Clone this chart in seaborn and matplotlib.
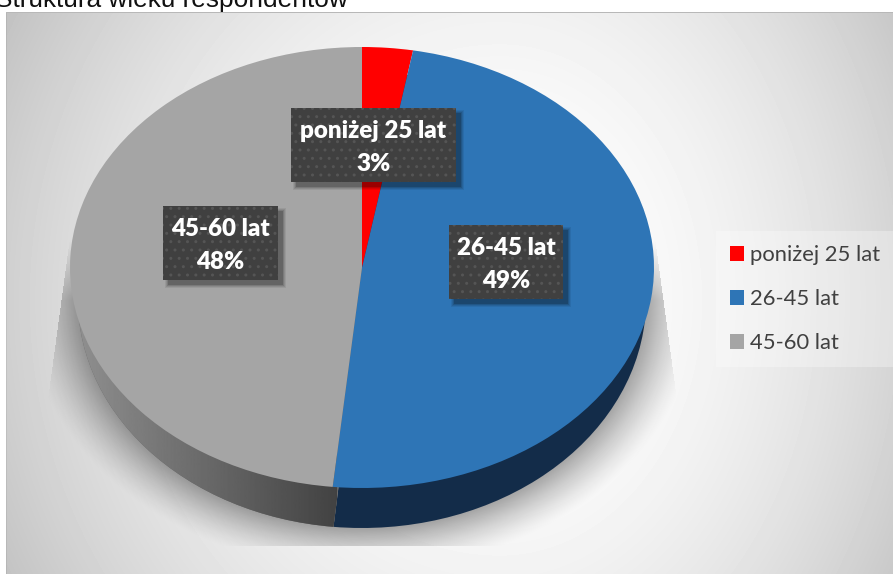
import numpy as np
import matplotlib
matplotlib.use("Agg")
import matplotlib.pyplot as plt
from matplotlib.patches import Rectangle
import seaborn as sns

# --- data -------------------------------------------------------------
categories = ["poniżej 25 lat", "26-45 lat", "45-60 lat"]
values = [2.8, 48.8, 48.4]
percent_labels = ["3%", "49%", "48%"]
title = "Struktura wieku respondentów"

top_colors = ["#ff0000", "#2e75b6", "#a5a5a5"]
side_colors = ["#7a0000", "#132c49", "#666666"]

# --- layout (pixels) --------------------------------------------------
W, H = 893, 574
sns.set_theme(style="white")
plt.rcParams["font.family"] = ["Lato", "DejaVu Sans"]
plt.rcParams["hatch.linewidth"] = 1.0
palette = sns.color_palette(top_colors)

fig = plt.figure(figsize=(W / 100, H / 100), dpi=100, facecolor="white")


def px_axes(x0, y0, x1, y1, z):
    a = fig.add_axes([x0 / W, 1 - y1 / H, (x1 - x0) / W, (y1 - y0) / H], zorder=z)
    a.patch.set_alpha(0)
    return a


# background panel + soft shadow
bg = px_axes(0, 0, W, H, 0)
bg.set_xlim(0, W)
bg.set_ylim(H, 0)
bg.axis("off")
xx, yy = np.meshgrid(np.arange(W) + 0.5, np.arange(H) + 0.5)
ax_semi = np.where(xx < 500, 400, 340)
t2 = ((xx - 500) / ax_semi) ** 2 + ((yy - 300) / 430) ** 2
level = np.clip(255 - 31 * t2, 0, 255) / 255
level[(xx < 6) | (yy < 12)] = 1
level[(yy >= 12) & (yy < 13) & (xx >= 6)] = 0.72
level[(xx >= 6) & (xx < 7) & (yy >= 13)] *= 0.93
bg.imshow(level, cmap="gray", vmin=0, vmax=1, extent=(0, W, H, 0), aspect="auto", zorder=0)

d = (np.sqrt(((xx - 362) / 284) ** 2 + ((yy - 300) / 228) ** 2) - 1) * 250
shadow = 0.34 * np.clip(1 - d / 48, 0, 1) ** 1.4
shadow *= np.clip((yy - 240) / 60, 0, 1)
shadow[yy >= 546] = 0
shadow[xx < 67 - (yy - 260) * 0.136] = 0
shadow[xx > 658 + (yy - 260) * 0.136] = 0
rgba = np.zeros((H, W, 4))
rgba[..., 3] = shadow
bg.imshow(rgba, extent=(0, W, H, 0), aspect="auto", zorder=1)
bg.set_xlim(0, W)
bg.set_ylim(H, 0)

bg.text(348, 7, title, ha="right", va="baseline", fontsize=18.9,
        family=["Liberation Sans"], color="#111111", clip_on=False)

# side of the disc (lower, slightly smaller ellipse)
side = px_axes(78, 72, 646, 528, 1)
side_wedges, _ = side.pie(values, colors=side_colors, startangle=90, counterclock=False,
                          radius=1, wedgeprops={"linewidth": 0})
side.set_aspect("auto")
grad = np.linspace(0.56, 0.26, 300)[None, :]
im = side.imshow(grad, cmap="gray", vmin=0, vmax=1, extent=(-1, -0.09, -1, 1),
                 aspect="auto", zorder=3)
im.set_clip_path(side_wedges[2])
side.set_xlim(-1, 1)
side.set_ylim(-1, 1)

# top face
top = px_axes(70, 47, 654, 488, 2)
top_wedges, _ = top.pie(values, colors=palette, startangle=90, counterclock=False,
                        radius=1, wedgeprops={"linewidth": 0})
top.set_aspect("auto")
top.set_xlim(-1, 1)
top.set_ylim(-1, 1)

# data labels + legend overlay
ov = px_axes(0, 0, W, H, 3)
ov.set_xlim(0, W)
ov.set_ylim(H, 0)
ov.axis("off")

boxes = [(291, 108, 456, 182), (449, 225, 563, 299), (163, 206, 278, 280)]
for (x0, y0, x1, y1), cat, pct in zip(boxes, categories, percent_labels):
    w, h = x1 - x0, y1 - y0
    for grow, a in [(3, 0.07), (2, 0.09), (1, 0.12), (0, 0.18)]:
        ov.add_patch(Rectangle((x0 + 5 - grow, y0 + 5 - grow), w + 2 * grow, h + 2 * grow,
                               facecolor="black", edgecolor="none", alpha=a, zorder=2))
    ov.add_patch(Rectangle((x0, y0), w, h, facecolor="#404040", edgecolor="none", zorder=3))
    ov.add_patch(Rectangle((x0, y0), w, h, facecolor="none", edgecolor="#555555",
                           linewidth=0, hatch="..", zorder=4))
    cx = (x0 + x1) / 2
    ov.text(cx, y0 + 23, cat, ha="center", va="center", fontsize=17.4, fontweight="heavy",
            color="white", zorder=5)
    ov.text(cx, y0 + 56, pct, ha="center", va="center", fontsize=17.4, fontweight="heavy",
            color="white", zorder=5)

leg = ov.legend(top_wedges, categories, loc="upper left",
                bbox_to_anchor=(716 / W, 1 - 231 / H), bbox_transform=fig.transFigure,
                fontsize=15.8, frameon=True, fancybox=False, framealpha=0.3,
                facecolor="white", edgecolor="none", handlelength=0.64, handleheight=0.64,
                handletextpad=0.27, labelspacing=1.1, borderpad=0.64, borderaxespad=0,
                labelcolor="#404040")

fig.savefig("out.png", dpi=100)
